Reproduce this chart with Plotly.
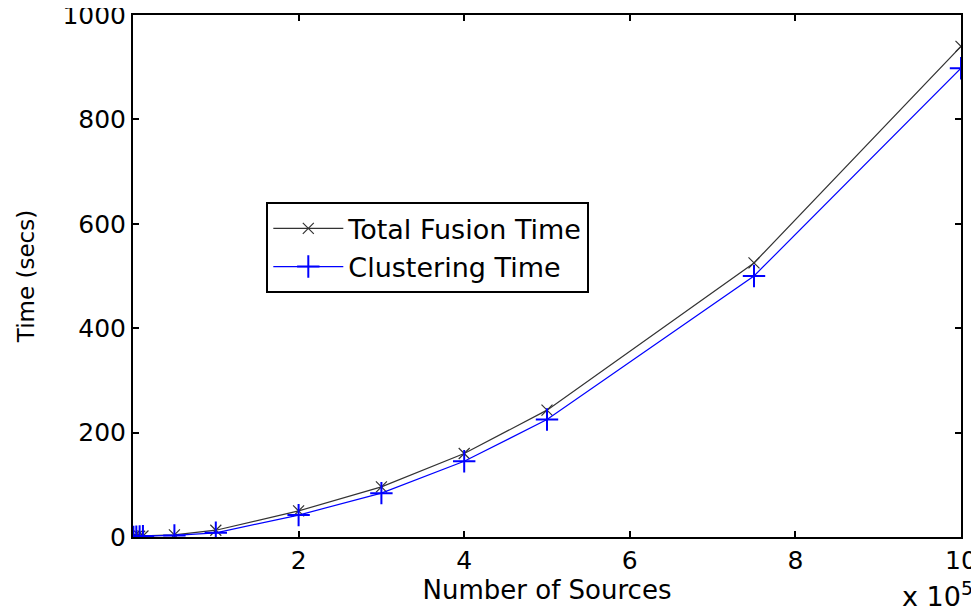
import plotly.graph_objects as go

# Number of sources (in units of 1e5)
sources_e5 = [0.005, 0.04, 0.08, 0.12, 0.5, 1, 2, 3, 4, 5, 7.5, 10]
total_fusion_time = [0.5, 1, 1.5, 2, 4, 13, 50, 96, 160, 243, 525, 940]
clustering_time = [0.3, 0.6, 1, 1.5, 3, 8, 42, 84, 145, 225, 500, 898]

x_tick_vals = [2, 4, 6, 8, 10]
y_tick_vals = [0, 200, 400, 600, 800, 1000]

FONT = "DejaVu Sans, Liberation Sans, sans-serif"

fig = go.Figure()
fig.add_trace(go.Scatter(
    x=sources_e5, y=total_fusion_time, name="Total Fusion Time",
    mode="lines+markers",
    line=dict(color="#333333", width=1.2),
    marker=dict(symbol="x-thin", size=11, line=dict(color="#333333", width=1.2)),
))
fig.add_trace(go.Scatter(
    x=sources_e5, y=clustering_time, name="Clustering Time",
    mode="lines+markers",
    line=dict(color="#0000ff", width=1.2),
    marker=dict(symbol="cross-thin", size=16, line=dict(color="#0000ff", width=2)),
))

axis_common = dict(
    showline=True, linecolor="black", linewidth=2, mirror="ticks",
    ticks="inside", ticklen=6, tickwidth=2, tickcolor="black",
    showgrid=False, zeroline=False, automargin=False,
    ticklabeloverflow="allow",
    tickfont=dict(family=FONT, size=25, color="black"),
)

fig.update_xaxes(range=[0, 10], tickvals=x_tick_vals, ticktext=[str(v) for v in x_tick_vals],
                 title=dict(text="Number of Sources", font=dict(family=FONT, size=26, color="black"), standoff=2),
                 **axis_common)
fig.update_yaxes(range=[0, 1000], tickvals=y_tick_vals,
                 title=dict(text="Time (secs)", font=dict(family=FONT, size=23, color="black"), standoff=21),
                 **axis_common)

fig.add_annotation(x=1.017, y=0, xref="paper", yref="paper", xanchor="right", yanchor="top",
                   yshift=-38, showarrow=False,
                   text="x 10<sup>5</sup>", font=dict(family=FONT, size=27, color="black"))

fig.update_layout(
    width=979, height=611,
    margin=dict(l=125, r=26, t=7, b=82),
    plot_bgcolor="white", paper_bgcolor="white",
    legend=dict(x=0.161, y=0.641, xanchor="left", yanchor="top",
                bordercolor="black", borderwidth=2, bgcolor="white",
                font=dict(family=FONT, size=27, color="black"),
                tracegroupgap=0, itemwidth=70),
    showlegend=True,
)

fig.write_html("out.html")
